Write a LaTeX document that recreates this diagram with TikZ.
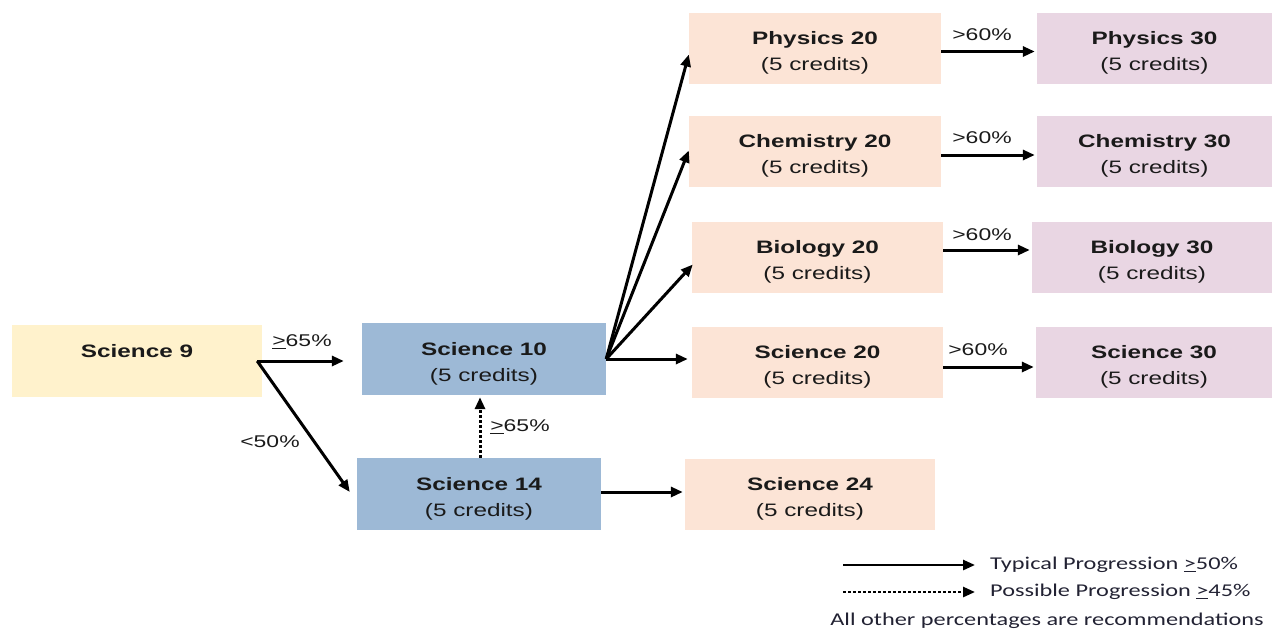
\documentclass[tikz,border=0pt]{standalone}
\usepackage{fontspec}
\newfontfamily\af[FakeStretch=1.35]{Liberation Sans}
\newfontfamily\cf[FakeStretch=1.35]{Carlito}
\usetikzlibrary{arrows.meta}
\definecolor{yel}{HTML}{FFF2CC}
\definecolor{blu}{HTML}{9DB9D6}
\definecolor{pch}{HTML}{FCE4D6}
\definecolor{lav}{HTML}{E9D6E3}
\definecolor{txt}{HTML}{1A1A1A}
\definecolor{ltxt}{HTML}{222233}
\newcommand{\dn}{\rule{0pt}{22pt}}
\begin{document}
\begin{tikzpicture}[x=1pt,y=-1pt,
 box/.style={inner sep=0pt, align=center, font=\af\fontsize{18}{26}\selectfont, text=txt},
 yb/.style={box, fill=yel, minimum width=250pt, minimum height=72pt},
 bb/.style={box, fill=blu, minimum width=244pt, minimum height=72pt},
 pb/.style={box, fill=pch, minimum height=71pt},
 lb/.style={box, fill=lav, minimum height=71pt},
 arr/.style={line width=3pt, -{Triangle[length=12pt,width=10pt]}},
 dotarr/.style={arr, dash pattern=on 2.5pt off 2.5pt},
 lbl/.style={font=\af\fontsize{17}{20}\selectfont, text=txt, inner sep=0pt},
 leg/.style={font=\cf\fontsize{18}{20}\selectfont, text=ltxt, inner sep=0pt}]
\path[use as bounding box] (0,0) rectangle (1275,633);

\node[yb] (s9) at (137,361) {\dn\textbf{Science 9}\\\phantom{(5 credits)}};
\node[bb] (s10) at (484,359) {\dn\textbf{Science 10}\\(5 credits)};
\node[bb] (s14) at (479,494) {\dn\textbf{Science 14}\\(5 credits)};
\node[pb, minimum width=250pt] (s24) at (810,494) {\dn\textbf{Science 24}\\(5 credits)};

\node[pb, minimum width=252pt] (p20) at (815,48.5) {\dn\textbf{Physics 20}\\(5 credits)};
\node[pb, minimum width=252pt] (c20) at (815,151.5) {\dn\textbf{Chemistry 20}\\(5 credits)};
\node[pb, minimum width=251pt] (b20) at (817.5,257.5) {\dn\textbf{Biology 20}\\(5 credits)};
\node[pb, minimum width=251pt] (sc20) at (817.5,362.5) {\dn\textbf{Science 20}\\(5 credits)};

\node[lb, minimum width=235pt] (p30) at (1154.5,48.5) {\dn\textbf{Physics 30}\\(5 credits)};
\node[lb, minimum width=235pt] (c30) at (1154.5,151.5) {\dn\textbf{Chemistry 30}\\(5 credits)};
\node[lb, minimum width=240pt] (b30) at (1152,257.5) {\dn\textbf{Biology 30}\\(5 credits)};
\node[lb, minimum width=236pt] (sc30) at (1154,362.5) {\dn\textbf{Science 30}\\(5 credits)};

% arrows from Science 9
\draw[arr, shorten >=13pt] ([xshift=-5pt]s9.east) -- ([xshift=-5pt]s9.east -| s10.west);
\draw[arr] ([xshift=-5pt]s9.east) -- ([xshift=-7pt,yshift=2pt]s14.west);
\draw[dotarr, shorten >=2pt] ([xshift=1pt]s14.north) -- ([xshift=1pt]s14.north |- s10.south);

% arrows from Science 10
\draw[arr] (s10.east) -- ([yshift=-6pt]p20.west);
\draw[arr] (s10.east) -- ([yshift=1pt]c20.west);
\draw[arr] (s10.east) -- ([xshift=1pt,yshift=-7pt]b20.west);
\draw[arr, shorten >=4pt] (s10.east) -- (s10.east -| sc20.west);
\draw[arr, shorten >=2pt] ([yshift=2pt]s14.east) -- ([yshift=2pt]s14.east -| s24.west);

% 20 -> 30
\draw[arr, shorten >=2pt] ([yshift=-3pt]p20.east) -- ([yshift=-3pt]p20.east -| p30.west);
\draw[arr, shorten >=2pt] ([yshift=-3.5pt]c20.east) -- ([yshift=-3.5pt]c20.east -| c30.west);
\draw[arr, shorten >=2pt] ([yshift=7.5pt]b20.east) -- ([yshift=7.5pt]b20.east -| b30.west);
\draw[arr, shorten >=2pt] ([yshift=-4.5pt]sc20.east) -- ([yshift=-4.5pt]sc20.east -| sc30.west);

% labels
\node[lbl] (l1) at (302,342) {\underline{>}65\%};
\node[lbl] (l2) at (270,442) {<50\%};
\node[lbl] (l3) at (520,427) {\underline{>}65\%};
\node[lbl] (l4) at (982,35) {>60\%};
\node[lbl] (l5) at (982,138) {>60\%};
\node[lbl] (l6) at (982,235) {>60\%};
\node[lbl] (l7) at (978,350) {>60\%};

% legend
\coordinate (la1) at (843,565);
\coordinate (la2) at (975,565);
\coordinate (lb1) at (843,592);
\coordinate (lb2) at (975,592);
\draw[arr, line width=2.6pt] (la1) -- (la2);
\draw[dotarr, line width=2.6pt] (lb1) -- (lb2);
\node[leg, anchor=west] (t1) at (990,565) {Typical Progression \underline{>}50\%};
\node[leg, anchor=west] (t2) at (990,592) {Possible Progression \underline{>}45\%};
\node[leg] (t3) at (1047,621) {All other percentages are recommendations};
\end{tikzpicture}
\end{document}
